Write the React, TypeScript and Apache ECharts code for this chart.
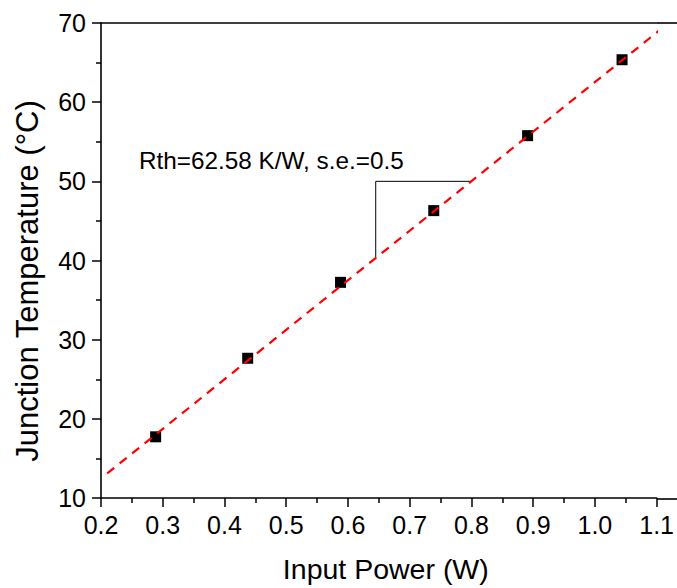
import React, { useEffect, useRef } from "react";
import * as echarts from "echarts";

const powerW = [0.2885, 0.4376, 0.588, 0.739, 0.891, 1.044];
const tempC = [17.73, 27.65, 37.24, 46.3, 55.77, 65.36];
const fitLine = [
  [0.21, 13.1],
  [1.105, 69.1],
];
const slopeBracket = [
  [0.645, 40.3],
  [0.645, 50],
  [0.8, 50],
];
const annotation = "Rth=62.58 K/W, s.e.=0.5";
const xName = "Input Power (W)";
const yName = "Junction Temperature (°C)";

const FONT = "'Liberation Sans', Arial, sans-serif";

export default function App() {
  const ref = useRef<HTMLDivElement>(null);
  useEffect(() => {
    document.body.style.margin = "0";
    if (!ref.current) return;
    const chart = echarts.init(ref.current, null, { renderer: "svg" });
    const W = 677;
    const gridLeft = 101;
    const gridRight = 20;
    const gridTop = 23;
    const gridBottom = 89;
    const axisColor = "#000";
    const axisW = 1.6;
    chart.setOption({
      animation: false,
      backgroundColor: "#fff",
      grid: { left: gridLeft, right: gridRight, top: gridTop, bottom: gridBottom, containLabel: false },
      xAxis: [
        {
          type: "value",
          min: 0.2,
          max: 1.1,
          interval: 0.1,
          name: xName,
          nameLocation: "middle",
          nameGap: 56,
          nameTextStyle: { fontFamily: FONT, fontSize: 28.5, color: "#000", padding: [0, 0, 0, 14] },
          axisLine: { show: true, lineStyle: { color: axisColor, width: axisW } },
          axisTick: { show: true, length: 9, lineStyle: { color: axisColor, width: 1.5 } },
          minorTick: { show: true, splitNumber: 2, length: 5, lineStyle: { color: axisColor, width: 1.5 } },
          axisLabel: {
            fontFamily: FONT,
            fontSize: 25,
            color: "#000",
            margin: 14,
            formatter: (v: number) => v.toFixed(1),
          },
          splitLine: { show: false },
        },
        {
          type: "value",
          position: "top",
          min: 0.2,
          max: 1.1,
          axisLine: { show: true, lineStyle: { color: axisColor, width: axisW } },
          axisTick: { show: false },
          axisLabel: { show: false },
          splitLine: { show: false },
        },
      ],
      yAxis: {
        type: "value",
        min: 10,
        max: 70,
        interval: 10,
        axisLine: { show: true, lineStyle: { color: axisColor, width: axisW } },
        axisTick: { show: true, length: 9, lineStyle: { color: axisColor, width: 1.5 } },
        minorTick: { show: true, splitNumber: 2, length: 5, lineStyle: { color: axisColor, width: 1.5 } },
        axisLabel: { fontFamily: FONT, fontSize: 25, color: "#000", margin: 15 },
        splitLine: { show: false },
      },
      series: [
        {
          type: "line",
          data: fitLine,
          symbol: "none",
          lineStyle: { color: "#ff0000", width: 2.2, type: [9, 7] },
          z: 3,
        },
        {
          type: "line",
          data: slopeBracket,
          symbol: "none",
          lineStyle: { color: "#000", width: 1 },
          z: 2,
        },
        {
          type: "scatter",
          data: powerW.map((p, i) => [p, tempC[i]]),
          symbol: "rect",
          symbolSize: 11,
          itemStyle: { color: "#000", opacity: 1 },
          z: 2,
        },
      ],
      graphic: [
        {
          type: "line",
          shape: { x1: W - gridRight, y1: gridTop, x2: W, y2: gridTop },
          style: { stroke: axisColor, lineWidth: axisW },
        },
        {
          type: "line",
          shape: { x1: W - gridRight, y1: 588 - gridBottom, x2: W, y2: 588 - gridBottom },
          style: { stroke: axisColor, lineWidth: axisW },
        },
        {
          type: "text",
          x: 139,
          y: 148,
          style: { text: annotation, fontFamily: FONT, fontSize: 24.3, fill: "#000" },
        },
        {
          type: "text",
          x: 27.5,
          y: 281,
          rotation: Math.PI / 2,
          style: {
            text: yName,
            fontFamily: FONT,
            fontSize: 31,
            fill: "#000",
            align: "center",
            verticalAlign: "middle",
          },
        },
      ],
    });
    return () => chart.dispose();
  }, []);
  return <div ref={ref} style={{ width: 677, height: 588 }} />;
}
